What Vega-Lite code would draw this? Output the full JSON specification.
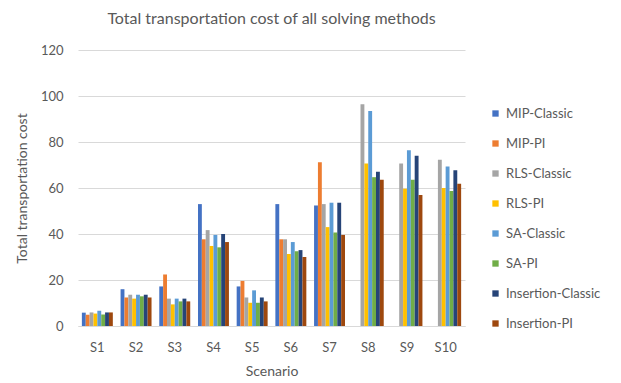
{
  "$schema": "https://vega.github.io/schema/vega-lite/v6.json",
  "autosize": {"type": "none"},
  "width": 387,
  "height": 276,
  "padding": {"left": 78, "top": 50, "right": 156, "bottom": 57},
  "background": "white",
  "title": {
    "text": "Total transportation cost of all solving methods",
    "font": "Lato",
    "fontSize": 16,
    "fontWeight": "normal",
    "color": "#595959",
    "anchor": "middle",
    "offset": 17
  },
  "data": {
    "values": [
      {"scenario": "S1", "method": "MIP-Classic", "cost": 5.8},
      {"scenario": "S1", "method": "MIP-PI", "cost": 4.9},
      {"scenario": "S1", "method": "RLS-Classic", "cost": 5.9},
      {"scenario": "S1", "method": "RLS-PI", "cost": 5.4},
      {"scenario": "S1", "method": "SA-Classic", "cost": 6.6},
      {"scenario": "S1", "method": "SA-PI", "cost": 5.0},
      {"scenario": "S1", "method": "Insertion-Classic", "cost": 5.9},
      {"scenario": "S1", "method": "Insertion-PI", "cost": 5.9},
      {"scenario": "S2", "method": "MIP-Classic", "cost": 16.0},
      {"scenario": "S2", "method": "MIP-PI", "cost": 12.4},
      {"scenario": "S2", "method": "RLS-Classic", "cost": 13.6},
      {"scenario": "S2", "method": "RLS-PI", "cost": 11.9},
      {"scenario": "S2", "method": "SA-Classic", "cost": 13.6},
      {"scenario": "S2", "method": "SA-PI", "cost": 12.9},
      {"scenario": "S2", "method": "Insertion-Classic", "cost": 13.6},
      {"scenario": "S2", "method": "Insertion-PI", "cost": 12.4},
      {"scenario": "S3", "method": "MIP-Classic", "cost": 17.2},
      {"scenario": "S3", "method": "MIP-PI", "cost": 22.4},
      {"scenario": "S3", "method": "RLS-Classic", "cost": 11.9},
      {"scenario": "S3", "method": "RLS-PI", "cost": 9.4},
      {"scenario": "S3", "method": "SA-Classic", "cost": 11.9},
      {"scenario": "S3", "method": "SA-PI", "cost": 10.7},
      {"scenario": "S3", "method": "Insertion-Classic", "cost": 11.9},
      {"scenario": "S3", "method": "Insertion-PI", "cost": 10.7},
      {"scenario": "S4", "method": "MIP-Classic", "cost": 53.0},
      {"scenario": "S4", "method": "MIP-PI", "cost": 37.7},
      {"scenario": "S4", "method": "RLS-Classic", "cost": 41.7},
      {"scenario": "S4", "method": "RLS-PI", "cost": 34.8},
      {"scenario": "S4", "method": "SA-Classic", "cost": 39.6},
      {"scenario": "S4", "method": "SA-PI", "cost": 34.2},
      {"scenario": "S4", "method": "Insertion-Classic", "cost": 40.0},
      {"scenario": "S4", "method": "Insertion-PI", "cost": 36.5},
      {"scenario": "S5", "method": "MIP-Classic", "cost": 17.2},
      {"scenario": "S5", "method": "MIP-PI", "cost": 19.6},
      {"scenario": "S5", "method": "RLS-Classic", "cost": 12.4},
      {"scenario": "S5", "method": "RLS-PI", "cost": 10.1},
      {"scenario": "S5", "method": "SA-Classic", "cost": 15.5},
      {"scenario": "S5", "method": "SA-PI", "cost": 10.1},
      {"scenario": "S5", "method": "Insertion-Classic", "cost": 12.4},
      {"scenario": "S5", "method": "Insertion-PI", "cost": 10.7},
      {"scenario": "S6", "method": "MIP-Classic", "cost": 53.0},
      {"scenario": "S6", "method": "MIP-PI", "cost": 37.7},
      {"scenario": "S6", "method": "RLS-Classic", "cost": 37.7},
      {"scenario": "S6", "method": "RLS-PI", "cost": 31.3},
      {"scenario": "S6", "method": "SA-Classic", "cost": 36.5},
      {"scenario": "S6", "method": "SA-PI", "cost": 32.5},
      {"scenario": "S6", "method": "Insertion-Classic", "cost": 33.0},
      {"scenario": "S6", "method": "Insertion-PI", "cost": 30.0},
      {"scenario": "S7", "method": "MIP-Classic", "cost": 52.4},
      {"scenario": "S7", "method": "MIP-PI", "cost": 71.2},
      {"scenario": "S7", "method": "RLS-Classic", "cost": 53.0},
      {"scenario": "S7", "method": "RLS-PI", "cost": 43.0},
      {"scenario": "S7", "method": "SA-Classic", "cost": 53.6},
      {"scenario": "S7", "method": "SA-PI", "cost": 40.7},
      {"scenario": "S7", "method": "Insertion-Classic", "cost": 53.6},
      {"scenario": "S7", "method": "Insertion-PI", "cost": 39.6},
      {"scenario": "S8", "method": "RLS-Classic", "cost": 96.4},
      {"scenario": "S8", "method": "RLS-PI", "cost": 70.6},
      {"scenario": "S8", "method": "SA-Classic", "cost": 93.5},
      {"scenario": "S8", "method": "SA-PI", "cost": 64.7},
      {"scenario": "S8", "method": "Insertion-Classic", "cost": 67.1},
      {"scenario": "S8", "method": "Insertion-PI", "cost": 63.6},
      {"scenario": "S9", "method": "RLS-Classic", "cost": 70.6},
      {"scenario": "S9", "method": "RLS-PI", "cost": 59.7},
      {"scenario": "S9", "method": "SA-Classic", "cost": 76.4},
      {"scenario": "S9", "method": "SA-PI", "cost": 63.6},
      {"scenario": "S9", "method": "Insertion-Classic", "cost": 74.0},
      {"scenario": "S9", "method": "Insertion-PI", "cost": 57.0},
      {"scenario": "S10", "method": "RLS-Classic", "cost": 72.3},
      {"scenario": "S10", "method": "RLS-PI", "cost": 60.0},
      {"scenario": "S10", "method": "SA-Classic", "cost": 69.4},
      {"scenario": "S10", "method": "SA-PI", "cost": 58.7},
      {"scenario": "S10", "method": "Insertion-Classic", "cost": 67.7},
      {"scenario": "S10", "method": "Insertion-PI", "cost": 61.8}
    ]
  },
  "mark": {"type": "bar"},
  "encoding": {
    "x": {
      "field": "scenario",
      "type": "nominal",
      "sort": ["S1","S2","S3","S4","S5","S6","S7","S8","S9","S10"],
      "scale": {"paddingInner": 0.2, "paddingOuter": 0.1},
      "axis": {
        "title": "Scenario",
        "labelAngle": 0,
        "labelFont": "Lato",
        "labelFontSize": 13,
        "labelColor": "#595959",
        "labelPadding": 15,
        "titleFont": "Lato",
        "titleFontSize": 14,
        "titleFontWeight": "normal",
        "titleColor": "#595959",
        "titlePadding": 10,
        "ticks": false,
        "domainColor": "#d9d9d9",
        "grid": false
      }
    },
    "xOffset": {
      "field": "method",
      "type": "nominal",
      "scale": {"domain": ["MIP-Classic","MIP-PI","RLS-Classic","RLS-PI","SA-Classic","SA-PI","Insertion-Classic","Insertion-PI"], "paddingInner": 0, "paddingOuter": 0}
    },
    "y": {
      "field": "cost",
      "type": "quantitative",
      "scale": {"domain": [0, 120]},
      "axis": {
        "title": "Total transportation cost",
        "values": [0, 20, 40, 60, 80, 100, 120],
        "labelFont": "Lato",
        "labelFontSize": 13,
        "labelColor": "#595959",
        "labelPadding": 15,
        "titleFont": "Lato",
        "titleFontSize": 14,
        "titleFontWeight": "normal",
        "titleColor": "#595959",
        "titlePadding": 11,
        "ticks": false,
        "domain": false,
        "gridColor": "#d9d9d9"
      }
    },
    "color": {
      "field": "method",
      "type": "nominal",
      "scale": {
        "domain": ["MIP-Classic","MIP-PI","RLS-Classic","RLS-PI","SA-Classic","SA-PI","Insertion-Classic","Insertion-PI"],
        "range": ["#4472C4","#ED7D31","#A5A5A5","#FFC000","#5B9BD5","#70AD47","#264478","#9E480E"]
      },
      "legend": {
        "title": null,
        "orient": "none",
        "legendX": 411,
        "legendY": 57,
        "symbolType": "square",
        "symbolSize": 40,
        "symbolStrokeWidth": 0,
        "labelFont": "Lato",
        "labelFontSize": 13,
        "labelColor": "#595959",
        "rowPadding": 16,
        "labelOffset": 4
      }
    }
  },
  "config": {"view": {"stroke": null}}
}
